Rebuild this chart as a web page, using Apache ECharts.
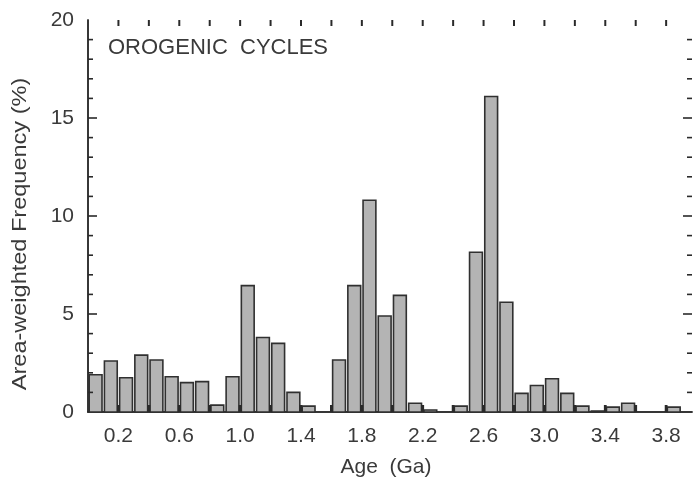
<!DOCTYPE html>
<html>
<head>
<meta charset="utf-8">
<script src="https://cdn.jsdelivr.net/npm/echarts@6/dist/echarts.min.js"></script>
<style>html,body{margin:0;padding:0;background:#fff}#c{width:695px;height:480px}</style>
</head>
<body>
<div id="c"></div>
<script>
// Age bins (Ga): start of each 0.1 Ga bin
const binStart = [0.0,0.1,0.2,0.3,0.4,0.5,0.6,0.7,0.8,0.9,
                  1.0,1.1,1.2,1.3,1.4,1.5,1.6,1.7,1.8,1.9,
                  2.0,2.1,2.2,2.3,2.4,2.5,2.6,2.7,2.8,2.9,
                  3.0,3.1,3.2,3.3,3.4,3.5,3.6,3.7,3.8];
const binWidth = 0.1;
// Area-weighted frequency (%)
const frequency = [1.9,2.6,1.75,2.9,2.65,1.8,1.5,1.55,0.35,1.8,
                   6.45,3.8,3.5,1.0,0.3,0,2.65,6.45,10.8,4.9,
                   5.95,0.45,0.1,0,0.3,8.15,16.1,5.6,0.95,1.35,
                   1.7,0.95,0.3,0.05,0.25,0.45,0,0,0.25];
const xLabelValues = [0.2,0.6,1.0,1.4,1.8,2.2,2.6,3.0,3.4,3.8];
const xTickValues = [0.2,0.4,0.6,0.8,1.0,1.2,1.4,1.6,1.8,2.0,2.2,2.4,2.6,2.8,3.0,3.2,3.4,3.6,3.8];
const yLabelValues = [0,5,10,15,20];
const yTickValues = [1,2,3,4,5,6,7,8,9,10,11,12,13,14,15,16,17,18,19];
const yMajorTicks = [5,10,15];
const titleText = 'OROGENIC  CYCLES';
const xName = 'Age  (Ga)';
const yName = 'Area-weighted Frequency (%)';

const X_MIN = 0, X_MAX = 3.97, Y_MIN = 0, Y_MAX = 20;
const FONT = '"Liberation Sans", Arial, Helvetica, sans-serif';
const TXT = '#3a3a3a';
const AX = '#2a2a2a';

const seriesData = binStart.map((s, i) => [s, +(s + binWidth).toFixed(2), frequency[i]]);

const chart = echarts.init(document.getElementById('c'), null, {renderer: 'canvas'});
const xBase = {
  type: 'value', min: X_MIN, max: X_MAX, interval: 0.2,
  splitLine: {show: false},
  axisLine: {show: true, lineStyle: {color: AX, width: 1.5}},
  axisTick: {show: false}
};
const yBase = {
  type: 'value', min: Y_MIN, max: Y_MAX, interval: 5,
  splitLine: {show: false},
  axisLine: {show: true, lineStyle: {color: AX, width: 1.5}},
  axisTick: {show: false}, minorTick: {show: false}
};

chart.setOption({
  animation: false,
  backgroundColor: '#fff',
  grid: {left: 88, right: 1, top: 20, bottom: 68},
  xAxis: [
    Object.assign({}, xBase, {
      position: 'bottom',
      axisLabel: {
        show: true, margin: 14, fontSize: 21, color: TXT, fontFamily: FONT,
        formatter: v => xLabelValues.some(t => Math.abs(t - v) < 1e-6) ? v.toFixed(1) : ''
      }
    }),
    Object.assign({}, xBase, {position: 'top', axisLabel: {show: false}})
  ],
  yAxis: [
    Object.assign({}, yBase, {
      position: 'left',
      axisLabel: {
        show: true, margin: 14, fontSize: 21, color: TXT, fontFamily: FONT,
        formatter: v => yLabelValues.indexOf(v) >= 0 ? String(v) : ''
      }
    }),
    Object.assign({}, yBase, {position: 'right', axisLabel: {show: false}})
  ],
  series: [{
    type: 'custom',
    xAxisIndex: 0, yAxisIndex: 0,
    data: seriesData,
    encode: {x: [0, 1], y: 2},
    z: 2,
    renderItem: function (params, api) {
      const v = api.value(2);
      if (!v) return null;
      const p0 = api.coord([api.value(0), v]);
      const p1 = api.coord([api.value(1), 0]);
      return {
        type: 'rect',
        shape: {x: p0[0] + 1.2, y: p0[1], width: p1[0] - p0[0] - 2.4, height: p1[1] - p0[1]},
        style: {fill: '#b4b4b4', stroke: '#303030', lineWidth: 1.6}
      };
    }
  }]
});

// inward-pointing ticks on all four sides, positioned through the grid's scales
function px(x, y) { return chart.convertToPixel({gridIndex: 0}, [x, y]); }
function tickLine(x1, y1, x2, y2, w) {
  return {type: 'line', z: 100, silent: true, shape: {x1: x1, y1: y1, x2: x2, y2: y2}, style: {stroke: AX, lineWidth: w}};
}
const graphics = [
  {type: 'text', x: 108, y: 37, style: {text: titleText, font: '22px ' + FONT, fill: TXT}},
  {type: 'text', x: 386, y: 467, style: {text: xName, font: '21px ' + FONT, fill: TXT, align: 'center', verticalAlign: 'middle'}},
  {type: 'text', x: 20, y: 234, rotation: Math.PI / 2, scaleX: 1.12, style: {text: yName, font: '21px ' + FONT, fill: TXT, align: 'center', verticalAlign: 'middle'}}
];
xTickValues.forEach(t => {
  const pb = px(t, Y_MIN), pt = px(t, Y_MAX);
  graphics.push(tickLine(pb[0], pb[1], pb[0], pb[1] - 7, 2.8));
  graphics.push(tickLine(pt[0], pt[1], pt[0], pt[1] + 6, 2));
});
yTickValues.forEach(t => {
  const pl = px(X_MIN, t), pr = px(X_MAX, t);
  const len = yMajorTicks.indexOf(t) >= 0 ? 9 : 5;
  graphics.push(tickLine(pl[0], pl[1], pl[0] + len, pl[1], 1.6));
  graphics.push(tickLine(pr[0], pr[1], pr[0] - len, pr[1], 1.6));
});
chart.setOption({graphic: graphics});
</script>
</body>
</html>
